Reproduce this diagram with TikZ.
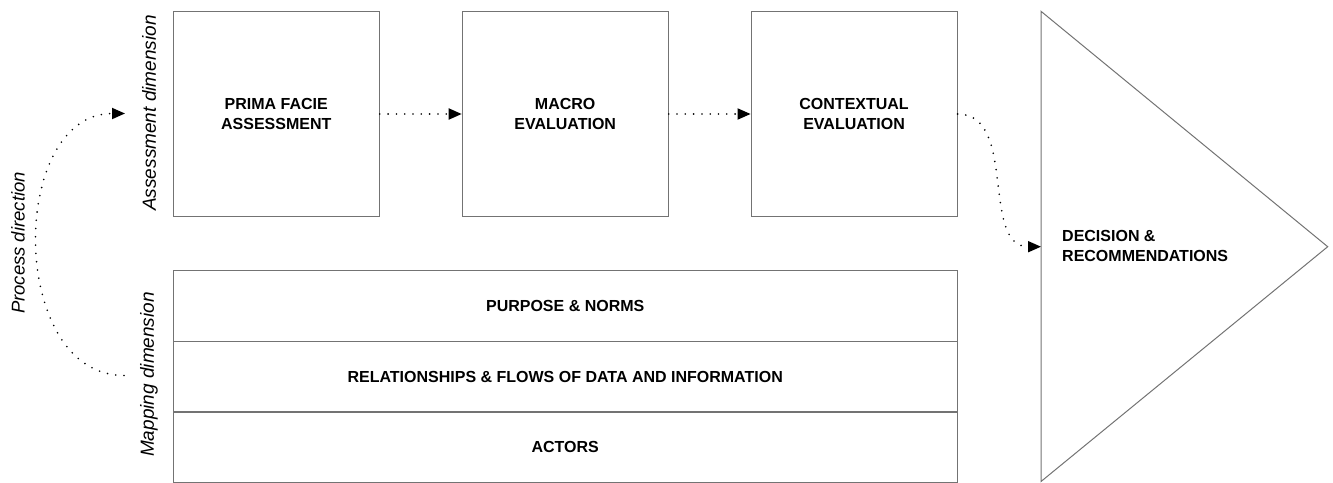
\documentclass[tikz,border=0pt]{standalone}
\usepackage{fontspec}
\setmainfont{Liberation Sans}
\usetikzlibrary{arrows.meta}
\begin{document}
\begin{tikzpicture}[x=1pt,y=-1pt,
  boxline/.style={draw=black!55, line width=1pt},
  boldtext/.style={font=\fontsize{16}{19.4}\selectfont\bfseries},
  stage/.style={boxline, boldtext, minimum width=206pt, minimum height=205.4pt, align=center, inner sep=0pt},
  layer/.style={boxline, boldtext, minimum width=784pt, minimum height=71pt, inner sep=0pt},
  dimlabel/.style={rotate=90, inner sep=0pt, font=\fontsize{19}{23}\selectfont\itshape},
  flow/.style={line width=1.8pt, line cap=round, dash pattern=on 0pt off 8.3pt,
    -{Triangle[length=13pt,width=11pt]}}
]
\useasboundingbox (0,0) rectangle (1333,482);

% assessment stages
\node[stage] (pf)    at (276.3,114) {PRIMA FACIE\\ASSESSMENT};
\node[stage] (macro) at (565.2,114) {MACRO\\EVALUATION};
\node[stage] (ctx)   at (854.1,114) {CONTEXTUAL\\EVALUATION};

% mapping layers
\node[layer] (purpose) at (565.2,305.7) {PURPOSE \& NORMS};
\node[layer] (rel)     at (565.2,376.7) {RELATIONSHIPS \& FLOWS OF DATA AND INFORMATION};
\node[layer] (actors)  at (565.2,447.2) {ACTORS};

% outcome
\draw[boxline] (1041,11.3) -- (1327.7,246.7) -- (1041,481.5) -- cycle;
\coordinate (decin) at (1041,246.7);
\node[boldtext, anchor=west, align=left, inner sep=0pt] (decision) at (1062,246) {DECISION \&\\RECOMMENDATIONS};

% dimension labels
\node[dimlabel] (assess) at (149,113) {Assessment dimension};
\node[dimlabel] (mapping) at (149,374.5) {Mapping dimension};
\node[dimlabel, font=\fontsize{18.5}{22}\selectfont\itshape] (procdir) at (18,243) {Process direction};

% process flow
\draw[flow] (pf.east) -- (macro.west);
\draw[flow] (macro.east) -- (ctx.west);
\draw[flow] (ctx.east) .. controls (1018,114) and (980,246.7) .. (decin);

\coordinate (mapend) at (124,375.5);
\coordinate (assend) at (125,113.5);
\draw[flow] (mapend) .. controls (8,375.5) and (8,113.5) .. (assend);
\end{tikzpicture}
\end{document}
